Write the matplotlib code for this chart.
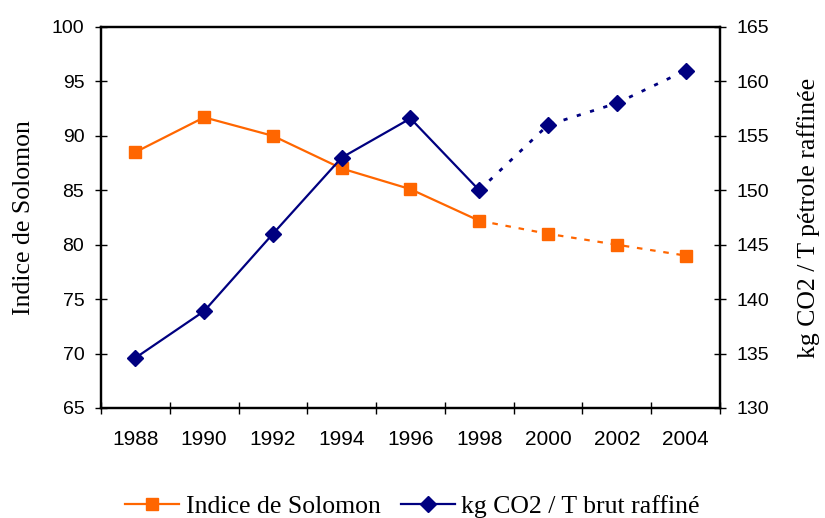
import matplotlib.pyplot as plt
from matplotlib.lines import Line2D

# donnees
annees = ['1988', '1990', '1992', '1994', '1996', '1998', '2000', '2002', '2004']
solomon = [88.5, 91.7, 90.0, 87.0, 85.1, 82.2, 81.0, 80.0, 79.0]
co2 = [134.6, 138.9, 146.0, 153.0, 156.6, 150.0, 156.0, 158.0, 161.0]
n_reel = 6  # 1988-1998 mesure, ensuite projection

orange = '#FF6600'
navy = '#000080'
serif = 'Liberation Serif'
sans = 'Liberation Sans'

fig = plt.figure(figsize=(8.25, 5.18), dpi=100)
ax1 = fig.add_axes([0.1224, 0.2124, 0.7503, 0.7355])
ax2 = ax1.twinx()

x = list(range(len(annees)))

ax1.plot(x[:n_reel], solomon[:n_reel], color=orange, lw=1.6, marker='s', ms=9, zorder=3)
ax1.plot(x[n_reel-1:], solomon[n_reel-1:], color=orange, lw=1.6, ls=(0, (2.5, 3.5)),
         marker='s', ms=9, markevery=list(range(1, len(x)-n_reel+1)), zorder=3)

ax2.plot(x[:n_reel], co2[:n_reel], color=navy, lw=1.6, marker='D', ms=8, zorder=3)
ax2.plot(x[n_reel-1:], co2[n_reel-1:], color=navy, lw=2, ls=(0, (1.5, 3.5)),
         marker='D', ms=8, markevery=list(range(1, len(x)-n_reel+1)), zorder=3)

ax1.set_xlim(-0.5, len(annees) - 0.5)
ax1.set_ylim(65, 100)
ax2.set_ylim(130, 165)
ax1.set_yticks(range(65, 101, 5))
ax2.set_yticks(range(130, 166, 5))

# axe categoriel : graduations entre les categories
ax1.set_xticks([i - 0.5 for i in range(len(annees) + 1)])
ax1.set_xticklabels([])
ax1.set_xticks(x, minor=True)
ax1.set_xticklabels(annees, minor=True, fontsize=15, family=sans)
ax1.tick_params(axis='x', which='major', direction='inout', length=8, width=1)
ax1.tick_params(axis='x', which='minor', length=0, pad=16)

ax1.tick_params(axis='y', direction='inout', length=8, width=1, labelsize=14, pad=8)
ax2.tick_params(axis='y', direction='inout', length=8, width=1, labelsize=14, pad=8)
for lab in ax1.get_yticklabels() + ax2.get_yticklabels():
    lab.set_family(sans)

for ax in (ax1, ax2):
    for s in ax.spines.values():
        s.set_linewidth(1.6)

ax1.set_ylabel('Indice de Solomon', fontsize=18.5, family=serif, labelpad=12)
ax2.set_ylabel('kg CO2 / T pétrole raffinée', fontsize=18.5, family=serif, labelpad=20)

handles = [Line2D([], [], color=orange, lw=1.6, marker='s', ms=8),
           Line2D([], [], color=navy, lw=1.6, marker='D', ms=8)]
fig.legend(handles, ['Indice de Solomon', 'kg CO2 / T brut raffiné'],
           loc='lower center', bbox_to_anchor=(0.5, -0.045), ncol=2, frameon=False,
           prop={'family': serif, 'size': 18.5}, handlelength=2.1, columnspacing=0.8,
           handletextpad=0.25)

fig.savefig('out.png', dpi=100)
